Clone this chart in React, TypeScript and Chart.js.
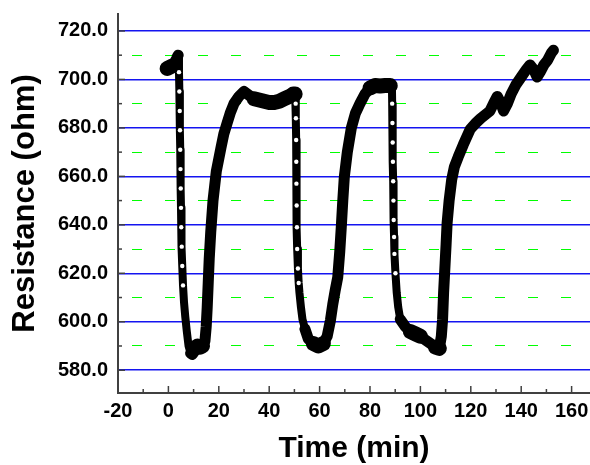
import React, { useEffect, useRef } from "react";
import { Chart, registerables } from "chart.js";

Chart.register(...registerables);

// ---- data ----
const timeMin: number[] = [
  -0.5, 0.5, 1.5, 2.5, 3.2, 3.6, 3.9,
  4.2, 4.35, 4.5, 4.6, 4.7, 4.8, 4.9, 5.0, 5.1, 5.3, 5.5, 5.8, 6.2, 6.7, 7.3, 8.0, 8.8, 9.5,
  10.5, 11.5, 12.5, 13.5, 14.5, 15.0, 15.4, 15.8, 16.2, 16.8, 17.7, 19.0, 20.9, 22.0, 23.3, 24.5, 26.0,
  28.0, 30.0, 32.0, 34.0, 36.0, 38.0, 40.0, 42.0, 44.0, 46.0, 48.0, 49.5, 50.3,
  50.5, 50.6, 50.7, 50.75, 50.8, 50.9, 51.0, 51.1, 51.4, 51.7, 52.0, 52.6, 53.2, 54.2, 55.5,
  57.5, 59.5, 61.5, 63.0, 64.3, 65.2, 66.2, 67.2, 68.0, 68.6, 69.2, 69.8, 71.0, 72.6, 74.2,
  76.0, 78.0, 80.0, 82.0, 84.0, 86.0, 88.0, 88.7,
  88.8, 88.9, 89.0, 89.1, 89.2, 89.3, 89.4, 89.55, 89.7, 90.1, 90.6, 91.2, 92.0, 94.0, 96.0,
  98.0, 100.0, 102.0, 104.0, 106.0, 107.5,
  108.3, 108.8, 109.2, 109.8, 110.2, 110.6, 111.4, 112.4, 113.5, 115.0, 117.0, 119.8, 122.0,
  124.0, 127.6, 129.0, 130.5, 132.0, 133.0, 134.5, 136.0, 138.0, 140.0, 142.0, 143.5, 145.0,
  146.3, 147.5, 149.0, 150.5, 152.0, 152.8,
];

const resistanceOhm: number[] = [
  704.5, 705, 705.5, 707, 708.5, 709.5, 710,
  703, 695, 687, 679, 671, 663, 655, 647, 639, 631, 623, 615, 608, 602, 596, 590, 587, 586.5,
  588, 590, 589.5, 590, 592, 598, 606, 616, 626, 637, 650, 662, 672, 677.5, 682, 686, 690,
  693, 695, 693.5, 692, 691.5, 691, 690.5, 690.5, 691, 692, 693, 694, 694,
  690, 684, 675, 666, 657, 648, 639, 630, 622, 616, 612, 606, 601, 597, 593,
  591, 590, 591, 594, 600.6, 607, 613, 618.4, 629, 639, 650, 659.7, 670, 680, 686,
  690, 694, 696.5, 697.5, 697.3, 697.5, 697.5, 697,
  690, 682, 674, 666, 658, 650, 642, 635, 628, 620, 612, 606, 601, 598, 596,
  595, 594, 592.5, 591, 589.5, 589,
  594, 601, 612, 624, 632, 640.7, 650, 658.5, 664, 668, 673, 679.5, 682,
  684, 687, 690, 693, 690, 687, 690, 694, 698, 701, 704, 706, 704,
  701, 703, 706, 708, 711, 712,
];

const xTickValues: number[] = [
  -20, -10, 0, 10, 20, 30, 40, 50, 60, 70, 80, 90, 100, 110, 120, 130, 140, 150, 160,
];
const yTickValues: number[] = [
  580, 590, 600, 610, 620, 630, 640, 650, 660, 670, 680, 690, 700, 710, 720,
];

const xTitle = "Time (min)";
const yTitle = "Resistance (ohm)";

const FONT = "Arial, 'Liberation Sans', sans-serif";
const isMajor = (v: number) => Math.abs(v % 20) < 1e-9;

export default function App() {
  const ref = useRef<HTMLCanvasElement>(null);

  useEffect(() => {
    if (!ref.current) return;
    const n = timeMin.length;
    const points = timeMin.map((t, i) => ({ x: t, y: resistanceOhm[i] }));

    const isFalling = (i: number) => {
      const a = Math.max(0, i - 1);
      const b = Math.min(n - 1, i + 1);
      const slope = (resistanceOhm[b] - resistanceOhm[a]) / (timeMin[b] - timeMin[a]);
      return slope < -15;
    };

    const inwardTicks = {
      id: "inwardTicks",
      afterDraw(chart: any) {
        const { ctx, chartArea, scales } = chart;
        ctx.save();
        ctx.strokeStyle = "#404040";
        ctx.lineWidth = 1.5;
        for (const v of xTickValues) {
          const px = scales.x.getPixelForValue(v);
          if (px <= chartArea.left + 2) continue;
          const len = isMajor(v) ? 7 : 4;
          ctx.beginPath();
          ctx.moveTo(px, chartArea.bottom);
          ctx.lineTo(px, chartArea.bottom - len);
          ctx.stroke();
        }
        for (const v of yTickValues) {
          const py = scales.y.getPixelForValue(v);
          const len = isMajor(v) ? 7 : 4;
          ctx.beginPath();
          ctx.moveTo(chartArea.left, py);
          ctx.lineTo(chartArea.left + len, py);
          ctx.stroke();
        }
        ctx.restore();
      },
    };

    const chart = new Chart(ref.current, {
      type: "scatter",
      data: {
        datasets: [
          {
            data: points,
            showLine: true,
            borderColor: "#000",
            borderWidth: 11,
            borderJoinStyle: "round",
            borderCapStyle: "round",
            segment: {
              borderWidth: (ctx: any) => {
                const dx = Math.abs(ctx.p1.x - ctx.p0.x);
                const dy = ctx.p1.y - ctx.p0.y;
                if (Math.abs(dy) < 0.6 * dx) return 15;
                if (dy > 3 * dx) return 8;
                return 11;
              },
            },
            pointRadius: (ctx: any) => (isFalling(ctx.dataIndex) ? 2.2 : 0),
            pointBackgroundColor: "#fff",
            pointBorderWidth: 0,
            pointHoverRadius: 0,
            pointHitRadius: 0,
          } as any,
        ],
      },
      options: {
        responsive: false,
        animation: false,
        events: [],
        layout: { padding: { top: 14, left: 0, right: 0, bottom: 0 } },
        plugins: {
          legend: { display: false },
          tooltip: { enabled: false },
        },
        scales: {
          x: {
            type: "linear",
            min: -20,
            max: 167.3,
            afterBuildTicks: (s: any) => {
              s.ticks = xTickValues.map((v) => ({ value: v }));
            },
            afterFit: (s: any) => {
              s.height = 72;
            },
            grid: {
              drawOnChartArea: false,
              drawTicks: true,
              tickLength: 6,
              tickColor: "rgba(0,0,0,0)",
              color: "rgba(0,0,0,0)",
            },
            border: { display: true, color: "#404040", width: 2 },
            ticks: {
              autoSkip: false,
              maxRotation: 0,
              minRotation: 0,
              padding: 0,
              color: "#000",
              font: { family: FONT, size: 20, weight: "bold" },
              callback: (v: any) => (isMajor(Number(v)) ? String(v) : ""),
            },
            title: {
              display: true,
              text: xTitle,
              color: "#000",
              font: { family: FONT, size: 30, weight: "bold", lineHeight: 1 },
              padding: { top: 0, bottom: 1 },
            },
          },
          y: {
            type: "linear",
            min: 570.6,
            max: 727,
            afterBuildTicks: (s: any) => {
              s.ticks = yTickValues.map((v) => ({ value: v }));
            },
            afterFit: (s: any) => {
              s.width = 118;
            },
            grid: {
              drawOnChartArea: true,
              drawTicks: true,
              tickLength: 10,
              tickColor: "rgba(0,0,0,0)",
              color: (ctx: any) =>
                ctx.tick && !isMajor(ctx.tick.value) ? "#00ff00" : "#1414f0",
              lineWidth: (ctx: any) => (ctx.tick && !isMajor(ctx.tick.value) ? 1 : 1.5),
            },
            border: {
              display: true,
              color: "#404040",
              width: 2,
              dash: (ctx: any) =>
                ctx.tick && !isMajor(ctx.tick.value) ? [10, 23] : [],
              dashOffset: (ctx: any) => (ctx.tick && !isMajor(ctx.tick.value) ? 20 : 0),
            },
            ticks: {
              autoSkip: false,
              padding: 0,
              color: "#000",
              font: { family: FONT, size: 20, weight: "bold" },
              callback: (v: any) => (isMajor(Number(v)) ? Number(v).toFixed(1) : ""),
            },
            title: {
              display: true,
              text: yTitle,
              color: "#000",
              font: { family: FONT, size: 31, weight: "bold", lineHeight: 1.2 },
              padding: { top: 7, bottom: 0 },
            },
          },
        },
      } as any,
      plugins: [inwardTicks],
    });

    return () => chart.destroy();
  }, []);

  return (
    <div
      style={{
        position: "fixed",
        left: 0,
        top: 0,
        width: 590,
        height: 465,
        background: "#fff",
      }}
    >
      <canvas ref={ref} width={590} height={465} style={{ display: "block" }} />
    </div>
  );
}
